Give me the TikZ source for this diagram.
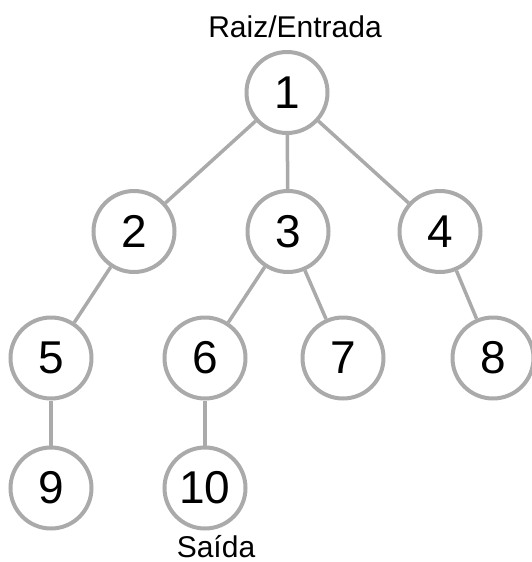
\documentclass[tikz,border=0pt]{standalone}
\usepackage{fontspec}
\setmainfont{Liberation Sans}
\definecolor{edgegray}{HTML}{AAAAAA}
\begin{document}
\begin{tikzpicture}[x=1pt,y=1pt,
  treenode/.style={circle,draw=edgegray,line width=4pt,minimum size=81pt,inner sep=0pt,
    font=\fontsize{46}{50}\selectfont,text=black},
  treeedge/.style={draw=edgegray,line width=3.5pt},
  caption/.style={font=\fontsize{30}{34}\selectfont,text=black,inner sep=0pt}]
  \useasboundingbox (0,0) rectangle (531,-562);
  % tree nodes
  \node[treenode] (n1)  at (287,-92.5) {1};
  \node[treenode] (n2)  at (134,-231.5) {2};
  \node[treenode] (n3)  at (288,-231.5) {3};
  \node[treenode] (n4)  at (440,-231.5) {4};
  \node[treenode] (n5)  at (51,-358) {5};
  \node[treenode] (n6)  at (205,-358) {6};
  \node[treenode] (n7)  at (343,-358) {7};
  \node[treenode] (n8)  at (493,-358) {8};
  \node[treenode] (n9)  at (51,-488) {9};
  \node[treenode] (n10) at (205,-488) {10};
  % labels
  \node[caption,anchor=base] (root) at (295,-37) {Raiz/Entrada};
  \node[caption,anchor=base] (out) at (216,-557) {Saída};
  % edges
  \draw[treeedge] (n1) -- (n2);
  \draw[treeedge] (n1) -- (n3);
  \draw[treeedge] (n1) -- (n4);
  \draw[treeedge] (n2) -- (n5);
  \draw[treeedge] (n3) -- (n6);
  \draw[treeedge] (n3) -- (n7);
  \draw[treeedge] (n4) -- (n8);
  \draw[treeedge] (n5) -- (n9);
  \draw[treeedge] (n6) -- (n10);
\end{tikzpicture}
\end{document}
